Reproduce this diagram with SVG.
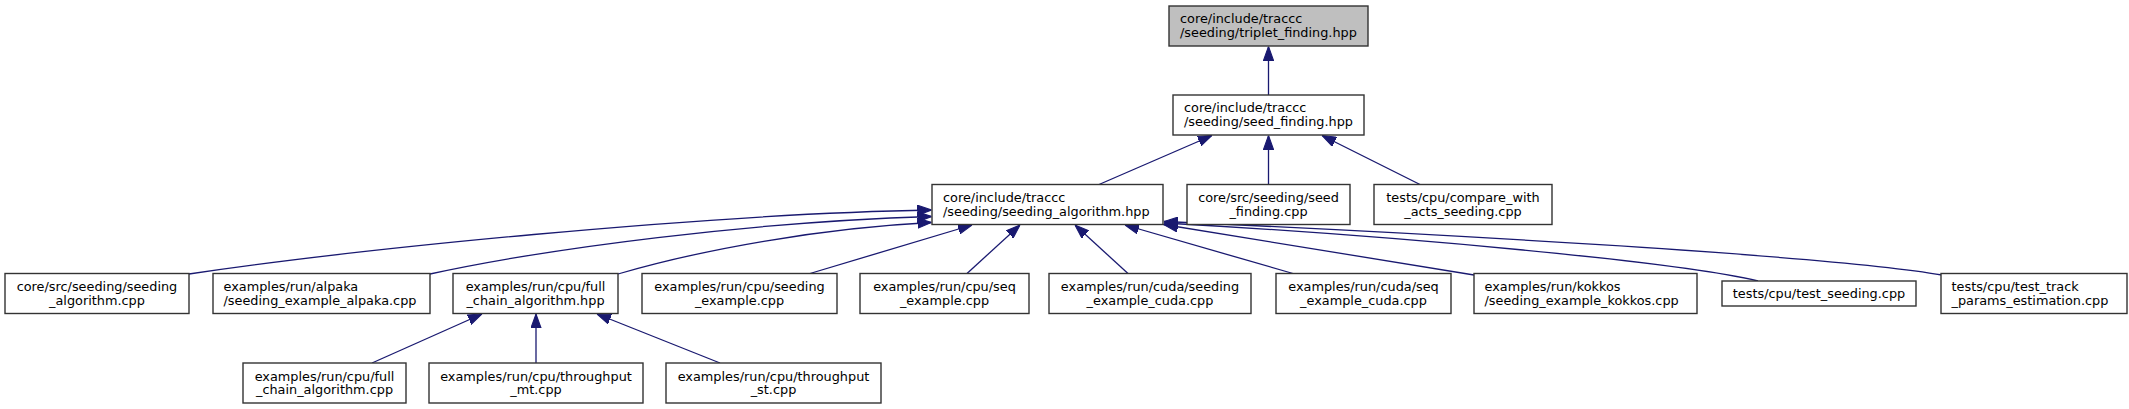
<svg xmlns="http://www.w3.org/2000/svg" width="2129" height="409" viewBox="0 0 2129 409">
<style>
  .box { fill: #ffffff; stroke: #333333; stroke-width: 1.4; }
  .root { fill: #bfbfbf; }
  text { font-family: "DejaVu Sans", "Noto Sans", sans-serif; font-size: 12.85px; fill: #000000; }
  .c { text-anchor: middle; }
  .e { fill: none; stroke: #191970; stroke-width: 1.3; marker-end: url(#ah); }
</style>
<defs>
  <marker id="ah" markerUnits="userSpaceOnUse" markerWidth="14" markerHeight="11" viewBox="0 0 13 10" refX="13" refY="5" orient="auto">
    <path d="M0,0.3 L13,5 L0,9.7 z" fill="#191970" stroke="#191970" stroke-width="1"/>
  </marker>
</defs>
<rect width="2129" height="409" fill="#ffffff"/>

<g id="connectors">
  <path class="e" d="M1268.5,95 L1268.5,46.5"/>
  <path class="e" d="M1099,184.5 L1212,135.5"/>
  <path class="e" d="M1268.5,184.5 L1268.5,135.5"/>
  <path class="e" d="M1420,184.5 L1322,135.5"/>
  <path class="e" d="M189,274 C350,250 700,214 931.5,210"/>
  <path class="e" d="M430,274 C550,248 750,222 931.5,216.5"/>
  <path class="e" d="M618,274 C700,250 820,228 931.5,222.5"/>
  <path class="e" d="M810,273.5 L972,225"/>
  <path class="e" d="M967,273.5 L1020,225"/>
  <path class="e" d="M1128,273.5 L1075,225"/>
  <path class="e" d="M1293,273.5 L1125,225"/>
  <path class="e" d="M1474,275 L1163.5,224.5"/>
  <path class="e" d="M1758,281 C1680,262 1400,236 1164,223"/>
  <path class="e" d="M1942,275 C1830,255 1400,232 1164,221.5"/>
  <path class="e" d="M372,363 L482,314"/>
  <path class="e" d="M536,363 L536,314"/>
  <path class="e" d="M720,363 L597,314"/>
</g>

<g id="n0">
  <rect class="box root" x="1169" y="6" width="199" height="40"/>
  <text x="1180" y="23">core/include/traccc</text>
  <text x="1180" y="37">/seeding/triplet_finding.hpp</text>
</g>
<g id="n1">
  <rect class="box" x="1173" y="95" width="191" height="40"/>
  <text x="1184" y="112">core/include/traccc</text>
  <text x="1184" y="126">/seeding/seed_finding.hpp</text>
</g>
<g id="n2">
  <rect class="box" x="932" y="184.5" width="231" height="40"/>
  <text x="943" y="202">core/include/traccc</text>
  <text x="943" y="215.5">/seeding/seeding_algorithm.hpp</text>
</g>
<g id="n3">
  <rect class="box" x="1187" y="184.5" width="163" height="40"/>
  <text class="c" x="1268.5" y="202">core/src/seeding/seed</text>
  <text class="c" x="1268.5" y="215.5">_finding.cpp</text>
</g>
<g id="n4">
  <rect class="box" x="1374" y="184.5" width="178" height="40"/>
  <text class="c" x="1463" y="202">tests/cpu/compare_with</text>
  <text class="c" x="1463" y="215.5">_acts_seeding.cpp</text>
</g>
<g id="n5">
  <rect class="box" x="5" y="273.5" width="184" height="40"/>
  <text class="c" x="97" y="291">core/src/seeding/seeding</text>
  <text class="c" x="97" y="304.5">_algorithm.cpp</text>
</g>
<g id="n6">
  <rect class="box" x="213" y="273.5" width="217" height="40"/>
  <text x="223.5" y="291">examples/run/alpaka</text>
  <text x="223.5" y="304.5">/seeding_example_alpaka.cpp</text>
</g>
<g id="n7">
  <rect class="box" x="453" y="273.5" width="165" height="40"/>
  <text class="c" x="535.5" y="291">examples/run/cpu/full</text>
  <text class="c" x="535.5" y="304.5">_chain_algorithm.hpp</text>
</g>
<g id="n8">
  <rect class="box" x="642" y="273.5" width="195" height="40"/>
  <text class="c" x="739.5" y="291">examples/run/cpu/seeding</text>
  <text class="c" x="739.5" y="304.5">_example.cpp</text>
</g>
<g id="n9">
  <rect class="box" x="860" y="273.5" width="169" height="40"/>
  <text class="c" x="944.5" y="291">examples/run/cpu/seq</text>
  <text class="c" x="944.5" y="304.5">_example.cpp</text>
</g>
<g id="n10">
  <rect class="box" x="1049" y="273.5" width="202" height="40"/>
  <text class="c" x="1150" y="291">examples/run/cuda/seeding</text>
  <text class="c" x="1150" y="304.5">_example_cuda.cpp</text>
</g>
<g id="n11">
  <rect class="box" x="1276" y="273.5" width="175" height="40"/>
  <text class="c" x="1363.5" y="291">examples/run/cuda/seq</text>
  <text class="c" x="1363.5" y="304.5">_example_cuda.cpp</text>
</g>
<g id="n12">
  <rect class="box" x="1474" y="273.5" width="223" height="40"/>
  <text x="1484.5" y="291">examples/run/kokkos</text>
  <text x="1484.5" y="304.5">/seeding_example_kokkos.cpp</text>
</g>
<g id="n13">
  <rect class="box" x="1722" y="281" width="194" height="25"/>
  <text class="c" x="1819" y="298">tests/cpu/test_seeding.cpp</text>
</g>
<g id="n14">
  <rect class="box" x="1941" y="273.5" width="186" height="40"/>
  <text x="1951.5" y="291">tests/cpu/test_track</text>
  <text x="1951.5" y="304.5">_params_estimation.cpp</text>
</g>
<g id="n15">
  <rect class="box" x="243" y="363" width="163" height="40"/>
  <text class="c" x="324.5" y="380.5">examples/run/cpu/full</text>
  <text class="c" x="324.5" y="394">_chain_algorithm.cpp</text>
</g>
<g id="n16">
  <rect class="box" x="429" y="363" width="214" height="40"/>
  <text class="c" x="536" y="380.5">examples/run/cpu/throughput</text>
  <text class="c" x="536" y="394">_mt.cpp</text>
</g>
<g id="n17">
  <rect class="box" x="666" y="363" width="215" height="40"/>
  <text class="c" x="773.5" y="380.5">examples/run/cpu/throughput</text>
  <text class="c" x="773.5" y="394">_st.cpp</text>
</g>
</svg>
